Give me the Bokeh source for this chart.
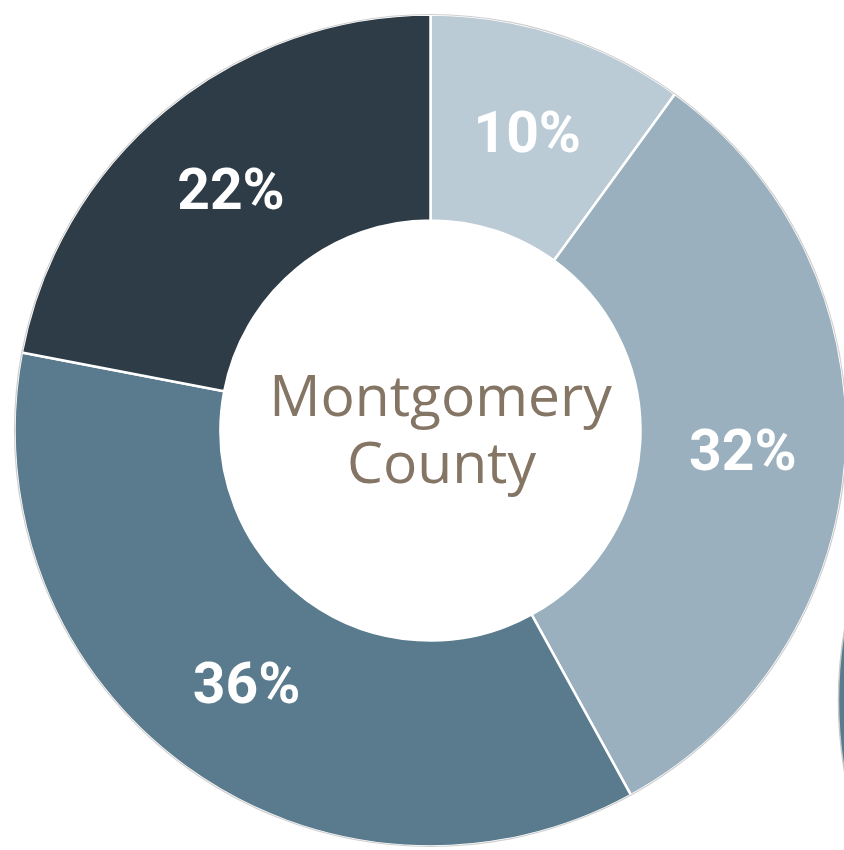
import numpy as np
from bokeh.plotting import figure
from bokeh.models import ColumnDataSource, Range1d
from bokeh.core.properties import value
from bokeh.embed import file_html
from bokeh.resources import INLINE

# ---- data ----
shares = [10, 32, 36, 22]
labels = ["10%", "32%", "36%", "22%"]
colors = ["#BBCBD5", "#9AB0BE", "#5A7B8E", "#2E3C47"]
center_lines = ["Montgomery", "County"]

# ---- geometry (data units = pixels, y upwards) ----
W, H = 844, 850
cx, cy = 430, 420
r_out, r_in = 416, 210

frac = np.array(shares, dtype=float) / sum(shares)
cum = np.cumsum(frac)
prev = np.concatenate([[0.0], cum[:-1]])
start = np.pi / 2 - 2 * np.pi * prev
end = np.pi / 2 - 2 * np.pi * cum
mid = (start + end) / 2
r_lab = (r_in + r_out) / 2

src = ColumnDataSource(dict(
    start=start, end=end, color=colors, label=labels,
    lx=cx + r_lab * np.cos(mid), ly=cy + r_lab * np.sin(mid),
))

p = figure(width=W, height=H, output_backend="svg", toolbar_location=None,
           x_range=Range1d(0, W), y_range=Range1d(0, H),
           min_border=0, outline_line_color=None)
p.axis.visible = False
p.grid.visible = False
p.background_fill_color = "white"
p.border_fill_color = "white"

# neighbouring donut peeking in at the right edge
p.annular_wedge(x=[1254], y=[150], inner_radius=r_in, outer_radius=r_out,
                start_angle=0, end_angle=2 * np.pi, fill_color="#5A7B8E",
                line_color="#C8C8C8", line_width=1.5)

p.annular_wedge(x=cx, y=cy, inner_radius=r_in, outer_radius=r_out,
                start_angle="start", end_angle="end", direction="clock",
                fill_color="color", line_color="white", line_width=2.5,
                source=src)
p.circle(x=[cx], y=[cy], radius=r_out, fill_color=None,
         line_color="#CFCFCF", line_width=1.2)

p.text(x="lx", y="ly", text="label", source=src,
       text_font=value("Roboto"),
       text_font_style="bold", text_font_size="57px", text_color="white",
       text_align="center", text_baseline="middle")

p.text(x=[cx], y=[cy], text=[center_lines[0]], x_offset=10, y_offset=-37,
       text_font=value("Open Sans"), text_font_size="57px",
       text_color="#857565", text_align="center", text_baseline="alphabetic")
p.text(x=[cx], y=[cy], text=[center_lines[1]], x_offset=11, y_offset=30,
       text_font=value("Open Sans"), text_font_size="57px",
       text_color="#857565", text_align="center", text_baseline="alphabetic")

open("out.html", "w").write(file_html(p, INLINE))
